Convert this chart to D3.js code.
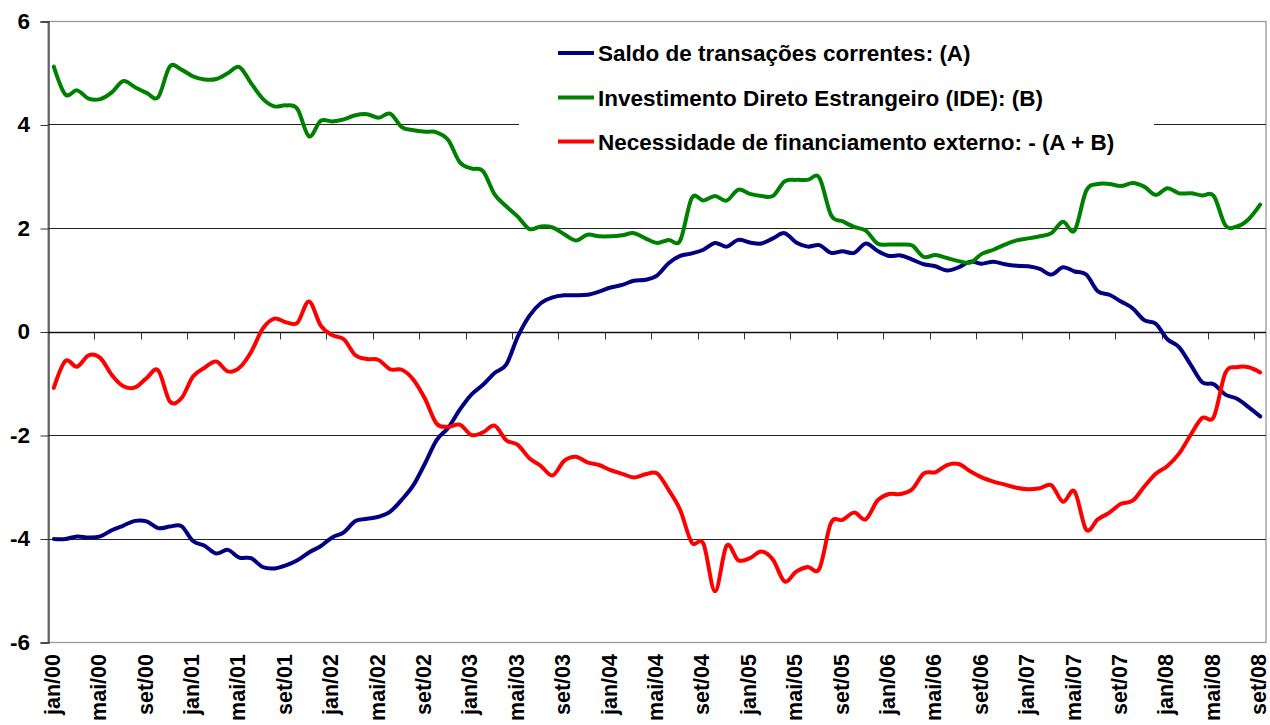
<!DOCTYPE html>
<html>
<head>
<meta charset="utf-8">
<script src="https://cdn.jsdelivr.net/npm/d3@7"></script>
<style>
  html, body { margin: 0; padding: 0; background: #fff; }
  svg { display: block; font-family: Arial, "Liberation Sans", sans-serif; }
</style>
</head>
<body>
<svg id="chart" width="1270" height="725"></svg>
<script>
// ---- Data (monthly, jan/00 .. set/08) ----
const tickLabels = ["jan/00","mai/00","set/00","jan/01","mai/01","set/01","jan/02","mai/02","set/02",
  "jan/03","mai/03","set/03","jan/04","mai/04","set/04","jan/05","mai/05","set/05",
  "jan/06","mai/06","set/06","jan/07","mai/07","set/07","jan/08","mai/08","set/08"];

const saldoTC = [ // (A)
  -4.01,-4.01,-3.96,-3.98,-3.96,-3.84,-3.75,-3.66,-3.67,-3.80,-3.77,-3.76,
  -4.05,-4.14,-4.29,-4.22,-4.37,-4.38,-4.55,-4.58,-4.52,-4.42,-4.27,-4.15,
  -3.98,-3.88,-3.66,-3.62,-3.58,-3.48,-3.25,-2.97,-2.55,-2.10,-1.86,-1.51,
  -1.22,-1.03,-0.80,-0.64,-0.10,0.30,0.55,0.66,0.70,0.70,0.71,0.77,
  0.85,0.90,0.98,1.00,1.08,1.32,1.46,1.51,1.58,1.71,1.64,1.77,
  1.72,1.70,1.80,1.90,1.72,1.64,1.67,1.52,1.55,1.52,1.70,1.56,
  1.46,1.47,1.39,1.30,1.26,1.18,1.24,1.35,1.31,1.35,1.30,1.27,
  1.26,1.21,1.10,1.24,1.16,1.10,0.78,0.71,0.58,0.45,0.22,0.15,
  -0.15,-0.30,-0.64,-0.98,-1.02,-1.22,-1.30,-1.46,-1.64
];
const ide = [ // (B)
  5.12,4.58,4.66,4.50,4.49,4.62,4.84,4.72,4.61,4.53,5.12,5.06,
  4.93,4.87,4.88,4.99,5.11,4.80,4.50,4.35,4.37,4.30,3.77,4.07,
  4.06,4.10,4.18,4.20,4.13,4.21,3.95,3.89,3.86,3.85,3.70,3.27,
  3.15,3.10,2.65,2.42,2.22,1.98,2.03,2.01,1.88,1.76,1.87,1.84,
  1.84,1.86,1.90,1.80,1.71,1.77,1.76,2.58,2.53,2.62,2.53,2.74,
  2.66,2.62,2.62,2.90,2.93,2.93,2.97,2.25,2.13,2.02,1.95,1.70,
  1.68,1.68,1.66,1.44,1.48,1.42,1.36,1.33,1.50,1.58,1.68,1.76,
  1.80,1.84,1.90,2.12,1.95,2.72,2.85,2.85,2.81,2.87,2.80,2.64,
  2.77,2.67,2.67,2.63,2.62,2.05,2.03,2.17,2.45
];
const necessidade = [ // -(A + B)
  -1.09,-0.57,-0.68,-0.46,-0.51,-0.84,-1.06,-1.08,-0.90,-0.75,-1.35,-1.29,
  -0.87,-0.70,-0.58,-0.77,-0.70,-0.40,0.05,0.25,0.18,0.17,0.58,0.12,
  -0.07,-0.15,-0.46,-0.53,-0.55,-0.73,-0.74,-0.93,-1.30,-1.78,-1.84,-1.80,
  -2.00,-1.95,-1.82,-2.10,-2.19,-2.45,-2.60,-2.78,-2.50,-2.42,-2.53,-2.58,
  -2.68,-2.75,-2.82,-2.76,-2.74,-3.06,-3.45,-4.08,-4.10,-5.02,-4.14,-4.42,
  -4.38,-4.25,-4.41,-4.83,-4.64,-4.55,-4.58,-3.70,-3.64,-3.50,-3.63,-3.27,
  -3.14,-3.14,-3.05,-2.74,-2.72,-2.58,-2.56,-2.70,-2.82,-2.90,-2.96,-3.02,
  -3.05,-3.03,-2.97,-3.29,-3.09,-3.83,-3.63,-3.50,-3.33,-3.27,-3.00,-2.75,
  -2.60,-2.36,-2.00,-1.67,-1.65,-0.80,-0.69,-0.69,-0.79
];
const seriesNames = ["Saldo de transações correntes: (A)",
  "Investimento Direto Estrangeiro (IDE): (B)",
  "Necessidade de financiamento externo: - (A + B)"];
const seriesColors = ["#000080", "#008000", "#FF0000"];
const yTicks = [-6, -4, -2, 0, 2, 4, 6];

// ---- Layout ----
const svg = d3.select("#chart");
const pL = 48, pR = 1266, pT = 21, pB = 642;
const FONT = 22.5, XFONT = 21.5;
const idx = d3.range(saldoTC.length);
const x = d3.scaleBand().domain(idx).range([pL, pR]).paddingInner(0).paddingOuter(0);
const cx = i => x(i) + x.bandwidth() / 2;
const y = d3.scaleLinear().domain([-6, 6]).range([pB, pT]);

// plot-area border (gray)
svg.append("rect").attr("x", pL).attr("y", pT + 0.5)
  .attr("width", pR - pL).attr("height", pB - pT)
  .attr("fill", "none").attr("stroke", "#999").attr("stroke-width", 1.3);

// gridlines
svg.append("g").selectAll("line").data(yTicks.filter(t => t !== 6 && t !== -6 && t !== 0)).join("line")
  .attr("x1", pL).attr("x2", pR)
  .attr("y1", d => Math.round(y(d)) + 0.5).attr("y2", d => Math.round(y(d)) + 0.5)
  .attr("stroke", "#222").attr("stroke-width", 1);

// y axis (ticks + line via d3 axis, labels drawn explicitly)
const yAxis = d3.axisLeft(y).tickValues(yTicks).tickSize(8).tickFormat("");
const gy = svg.append("g").attr("transform", `translate(${pL + 0.5},0.5)`).call(yAxis);
gy.select(".domain").attr("stroke", "#333").attr("stroke-width", 1.3);
gy.selectAll(".tick line").attr("stroke", "#333");
svg.append("g").selectAll("text").data(yTicks).join("text")
  .attr("x", pL - 18).attr("y", d => y(d)).attr("dy", "0.35em")
  .attr("text-anchor", "end")
  .attr("font-size", FONT).attr("font-weight", "bold").attr("fill", "#000")
  .text(d => String(d));

// category axis at 0
const y0 = Math.round(y(0)) + 0.5;
svg.append("line").attr("x1", pL).attr("x2", pR).attr("y1", y0).attr("y2", y0)
  .attr("stroke", "#111").attr("stroke-width", 1.3);
const tickIdx = idx.filter(i => i % 4 === 0 && i > 0);
svg.append("g").selectAll("line").data(tickIdx).join("line")
  .attr("x1", i => Math.round(x(i)) + 0.5).attr("x2", i => Math.round(x(i)) + 0.5)
  .attr("y1", y0).attr("y2", y0 + 7).attr("stroke", "#333");

// category labels (rotated)
const labelIdx = idx.filter(i => i % 4 === 0);
svg.append("g").selectAll("text").data(labelIdx).join("text")
  .attr("transform", i => `translate(${cx(i) + 6},${pB + 12}) rotate(-90)`)
  .attr("text-anchor", "end")
  .attr("font-size", XFONT).attr("font-weight", "bold").attr("fill", "#000")
  .text((i, k) => tickLabels[k]);

// legend background
svg.append("rect").attr("x", 519).attr("y", 28).attr("width", 635).attr("height", 140).attr("fill", "#fff");

// lines
const line = d3.line().x((d, i) => cx(i)).y(d => y(d)).curve(d3.curveCardinal.tension(0));
[saldoTC, ide, necessidade].forEach((s, k) => {
  svg.append("path").datum(s).attr("d", line)
    .attr("fill", "none").attr("stroke", seriesColors[k]).attr("stroke-width", 4)
    .attr("stroke-linejoin", "round").attr("stroke-linecap", "round");
});

// legend
const legY = [53, 97.5, 141.5];
const lg = svg.append("g");
seriesNames.forEach((name, k) => {
  lg.append("line").attr("x1", 558).attr("x2", 594).attr("y1", legY[k]).attr("y2", legY[k])
    .attr("stroke", seriesColors[k]).attr("stroke-width", 4);
  lg.append("text").attr("x", 598).attr("y", legY[k] + 8)
    .attr("font-size", FONT).attr("font-weight", "bold").attr("fill", "#000").text(name);
});
</script>
</body>
</html>
